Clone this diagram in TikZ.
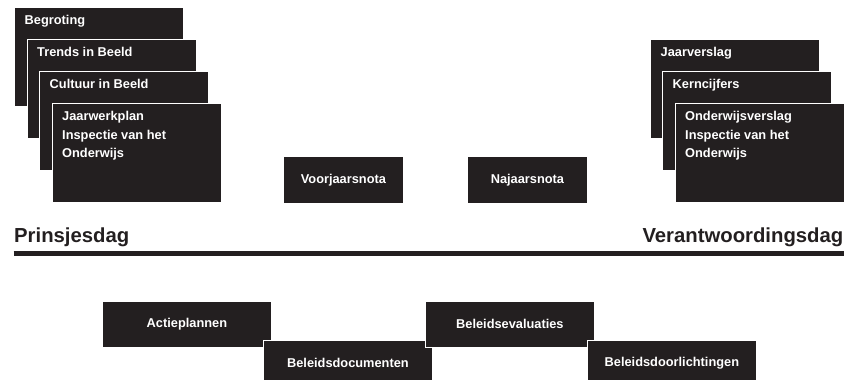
\documentclass[tikz,border=0pt]{standalone}
\usepackage{fontspec}
\setmainfont{Liberation Sans}
\usepackage{xcolor}
\usepackage{tikz}
\usetikzlibrary{positioning}
\definecolor{ink}{HTML}{231f20}

\begin{document}
\begin{tikzpicture}[x=1pt, y=-1pt,
  stackbox/.style={rectangle, draw=white, line width=0.8pt, fill=ink, anchor=north west, minimum width=169pt, minimum height=99pt, inner sep=0pt},
  stacklabel/.style={anchor=north west, xshift=10.5pt, yshift=-8.5pt, inner sep=0pt, text=white, font=\fontsize{12.8}{18.5}\selectfont\bfseries, align=left},
  notabox/.style={rectangle, draw=white, line width=0.8pt, fill=ink, anchor=north west, minimum width=120pt, minimum height=47pt, inner sep=0pt, text=white, font=\fontsize{12.8}{15}\selectfont\bfseries},
  planbox/.style={notabox, minimum width=169pt, minimum height=46pt},
  daylabel/.style={font=\fontsize{20.3}{24}\selectfont\bfseries, text=ink, inner sep=0pt},
  rule/.style={line width=5pt, color=ink}
]
\useasboundingbox (0,0) rectangle (855,380);
\node[stackbox, label={[stacklabel]north west:Begroting}] (begroting) at (14,7) {};
\node[stackbox, label={[stacklabel]north west:Trends in Beeld}] (trends) at (26.5,39) {};
\node[stackbox, label={[stacklabel]north west:Cultuur in Beeld}] (cultuur) at (39,71) {};
\node[stackbox, label={[stacklabel]north west:Jaarwerkplan\\Inspectie van het\\Onderwijs}] (jaarwerkplan) at (51.5,103) {};
\node[stackbox, label={[stacklabel]north west:Jaarverslag}] (jaarverslag) at (650,39) {};
\node[stackbox, label={[stacklabel]north west:Kerncijfers}] (kerncijfers) at (662,71) {};
\node[stackbox, label={[stacklabel]north west:Onderwijsverslag\\Inspectie van het\\Onderwijs}] (onderwijsverslag) at (674.5,103) {};
\node[notabox] (voorjaar) at (283,156) {Voorjaarsnota};
\node[notabox] (najaar) at (467,156) {Najaarsnota};
\node[daylabel, anchor=base west] (prinsjesdag) at (14,242) {Prinsjesdag};
\node[daylabel, anchor=base east] (verantwoording) at (843.5,242) {Verantwoordingsdag};
\coordinate (ruleL) at (13.5,253.5);
\coordinate (ruleR) at (844,253.5);
\draw[rule] (ruleL) -- (ruleR);
\node[planbox] (actie) at (102,301) {Actieplannen};
\node[planbox] (documenten) at (263,340) {Beleidsdocumenten};
\node[planbox] (evaluaties) at (425,301) {Beleidsevaluaties};
\node[planbox] (doorlichtingen) at (587,340) {Beleidsdoorlichtingen};
\end{tikzpicture}
\end{document}
